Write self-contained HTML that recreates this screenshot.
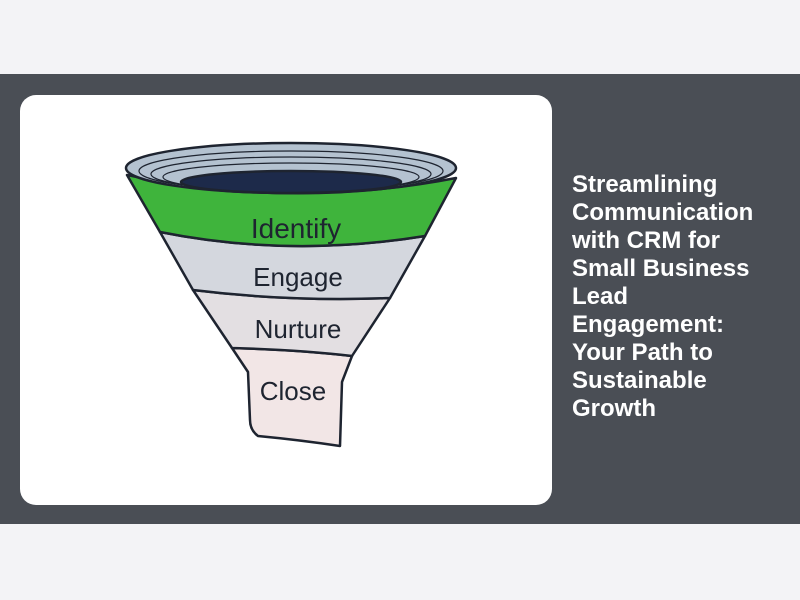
<!DOCTYPE html>
<html><head><meta charset="utf-8"><style>
html,body{margin:0;padding:0;width:800px;height:600px;background:#f3f3f6;overflow:hidden;font-family:"Liberation Sans",sans-serif}
.panel{position:absolute;left:0;top:74px;width:800px;height:450px;background:#4a4e55}
.card{position:absolute;left:20px;top:95px;width:532px;height:410px;background:#fff;border-radius:16px}
.title{position:absolute;left:572px;top:171px;width:195px;color:#fff;font-weight:bold;font-size:24px;line-height:28px}
svg{position:absolute;left:0;top:0}
</style></head><body>
<div class="panel"></div>
<div class="card"></div>
<svg width="800" height="600" viewBox="0 0 800 600">
<g stroke="#1e2430" stroke-width="2.5" stroke-linejoin="round">
<path d="M232,348 Q300,350 352,356 L342,382 L340,446 Q300,440 258,436 Q250,430 250,420 L248,372 Z" fill="#f2e6e6"/>
<path d="M193,290 Q290,302 390,298 L352,356 Q300,350 232,348 Z" fill="#e3dfe2"/>
<path d="M160,232 Q290,258 425,236 L390,298 Q290,302 193,290 Z" fill="#d4d7de"/>
<path d="M127,175 Q290,210 456,178 L425,236 Q290,258 160,232 Z" fill="#3fb43c"/>
<ellipse cx="291" cy="168" rx="165" ry="25" fill="#b4c2d0"/>
<ellipse cx="291" cy="171" rx="152" ry="20" fill="none" stroke-width="1.2"/>
<ellipse cx="291" cy="174" rx="140" ry="17" fill="none" stroke-width="1.2"/>
<ellipse cx="291" cy="177" rx="128" ry="14" fill="none" stroke-width="1.2"/>
<ellipse cx="291" cy="182" rx="110" ry="11" fill="#1d2a4a"/>
</g>
<g font-family="'Liberation Sans',sans-serif" font-size="26" fill="#1e2430" text-anchor="middle">
<text x="296" y="238" font-size="28">Identify</text>
<text x="298" y="286">Engage</text>
<text x="298" y="338">Nurture</text>
<text x="293" y="400">Close</text>
</g>
</svg>
<div class="title">Streamlining Communication with CRM for Small Business Lead Engagement: Your Path to Sustainable Growth</div>
</body></html>
